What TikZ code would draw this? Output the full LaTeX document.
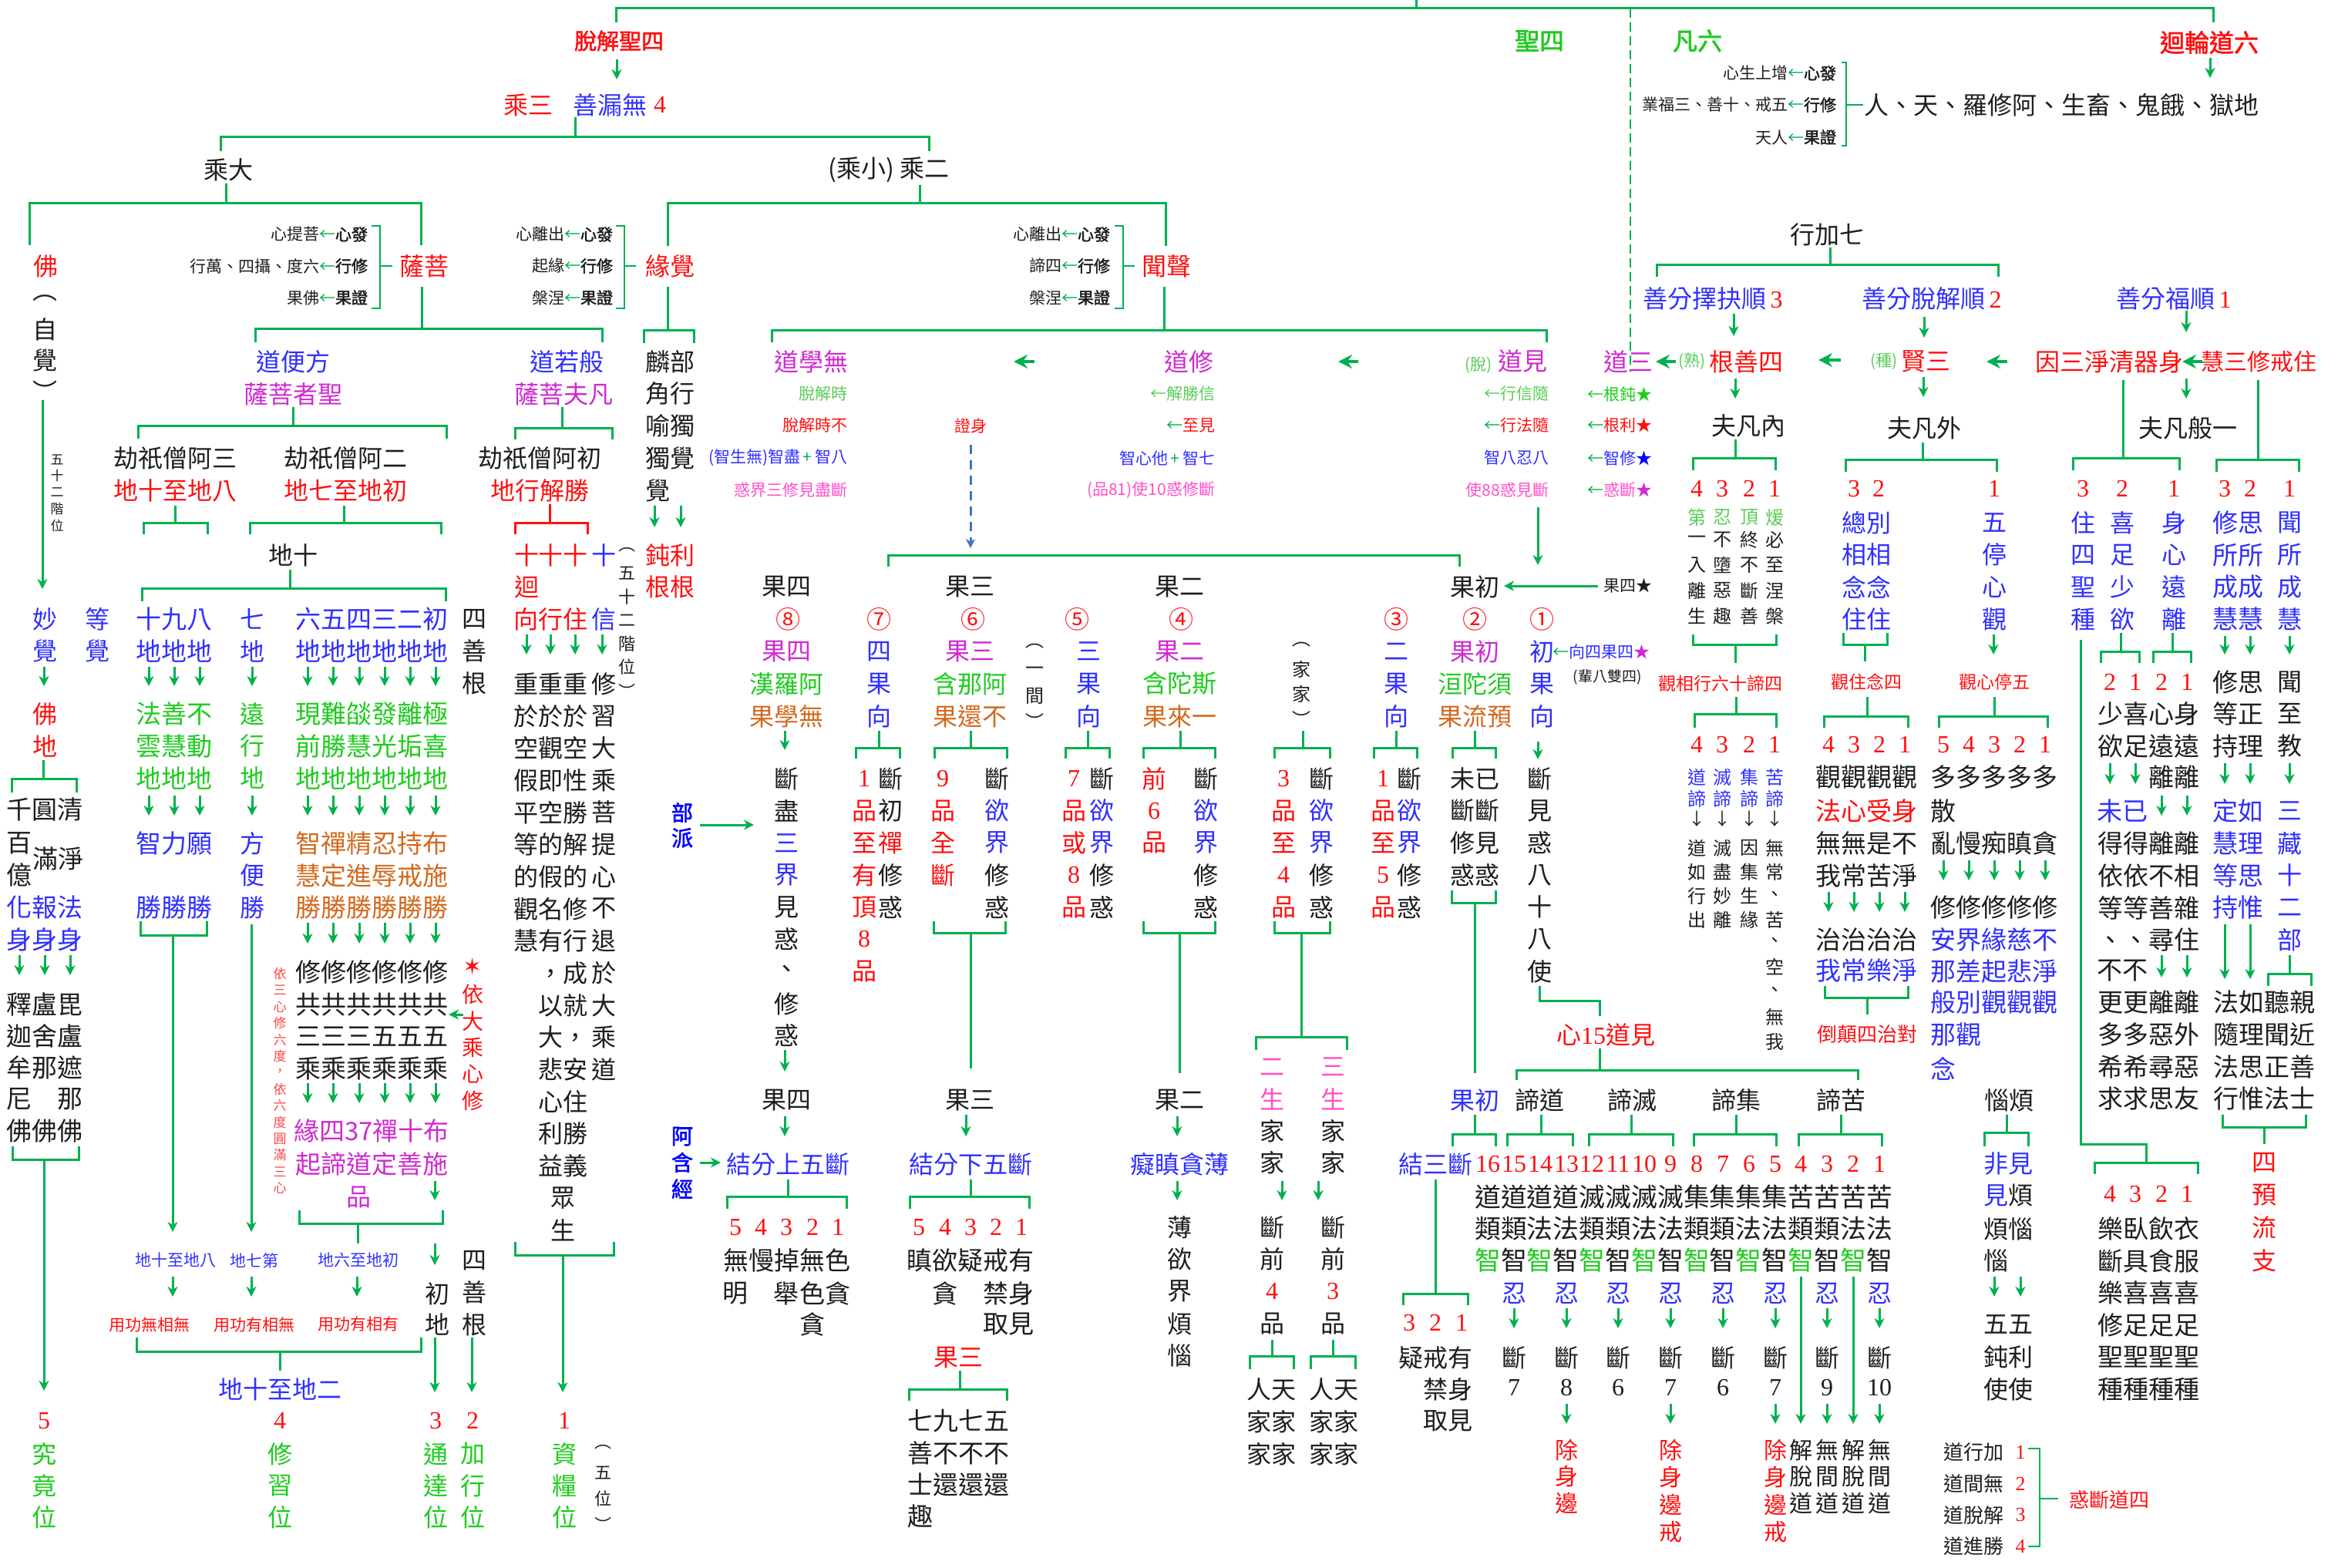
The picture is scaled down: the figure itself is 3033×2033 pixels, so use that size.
\documentclass[tikz,border=0pt]{standalone}
\usepackage{fontspec}
\setmainfont{Noto Sans CJK TC}
\newfontfamily\serif{Liberation Serif}
\newfontfamily\djv{DejaVu Sans}
\newfontfamily\cjkb[FakeBold=2]{Noto Sans CJK TC}
\usetikzlibrary{arrows.meta}
\definecolor{ink}{HTML}{1E1E1E}
\definecolor{cR}{HTML}{FF1010}
\definecolor{cLR}{HTML}{FF4848}
\definecolor{cB}{HTML}{3030FF}
\definecolor{cBB}{HTML}{0000FF}
\definecolor{cM}{HTML}{D02AD0}
\definecolor{cP}{HTML}{FF50C8}
\definecolor{cG}{HTML}{1ECC1E}
\definecolor{cLG}{HTML}{5ACC5A}
\definecolor{cO}{HTML}{D2691E}
\definecolor{lg}{HTML}{00B050}
\definecolor{dbl}{HTML}{4472C4}
\newcommand\fs[1]{\fontsize{#1}{#1}\selectfont}
\newcommand\nm[1]{{\serif #1}}
\newcounter{nd}
\newcommand\Tx[4][]{\stepcounter{nd}\node[tx,#1] (n\arabic{nd}) at (#2,#3) {#4};}
\newcommand\Cx[5][]{\foreach \s [count=\i from 0] in {#5} {\Tx[#1]{#2}{#3+\i*#4}{\s}}}
\newcommand\Rx[3][]{\foreach \a/\b in {#3} {\Tx[#1]{\a}{#2}{\b}}}
\newcommand\Nr[3][]{\foreach \a/\b in {#3} {\Tx[rd,#1]{\a}{#2}{\nm{\b}}}}
\newcommand\Dn[3]{\draw[arw] (#1,#2)--(#1,#3);}
\newcommand\Dns[3]{\foreach \x in {#1} {\draw[arw] (\x,#2)--(\x,#3);}}
\tikzset{
 tx/.style={inner sep=0pt,outer sep=0pt,text=ink,font=\fs{16}},
 cb/.style={font=\fs{16.5}},
 sm/.style={font=\fs{10.5}},
 rd/.style={text=cR}, lrd/.style={text=cLR}, bl/.style={text=cB}, bb/.style={text=cBB},
 mg/.style={text=cM}, pk/.style={text=cP}, gn/.style={text=cG}, lgn/.style={text=cLG}, orr/.style={text=cO},
 gl/.style={draw=lg,line width=1.5pt},
 glt/.style={draw=lg,line width=1pt},
 arw/.style={draw=lg,line width=1.5pt,-{Stealth[length=6.5pt,width=6.5pt,inset=2pt]}},
 arb/.style={draw=lg,line width=2pt,-{Stealth[length=9pt,width=9pt,inset=3pt]}},
}
\begin{document}
\begin{tikzpicture}[x=0.5pt,y=-0.5pt]
\fill[white] (0,0) rectangle (3033,2033);
\useasboundingbox (0,0) rectangle (3033,2033);
% ===== top =====
\draw[gl] (1837,0)--(1837,11) (799,29)--(799,11)--(2871,11)--(2871,29);
\draw[draw=lg,line width=1.2pt,dash pattern=on 6pt off 3pt] (2115,11)--(2115,482);
\Tx[rd,font=\cjkb\fs{14.5}]{803}{53}{脫解聖四}
\Tx[gn,font=\cjkb\fs{16}]{1997}{53}{聖四}
\Tx[gn,font=\cjkb\fs{16}]{2202}{53}{凡六}
\Tx[rd,font=\cjkb\fs{16}]{2866}{55}{迴輪道六}
\Dn{800}{77}{103}
\Dn{2867}{75}{101}
\Tx[rd]{685}{136}{乘三}
\Tx[bl]{791}{136}{善漏無}
\Tx[rd]{856}{136}{\nm{4}}
\draw[gl] (746,152)--(746,178) (286,196)--(286,178)--(1205,178)--(1205,196);
\Tx[sm,anchor=east]{2382}{95}{心生上增{\color{lg}←}{\cjkb 心發}}
\Tx[sm,anchor=east]{2382}{136}{業福三、善十、戒五{\color{lg}←}{\cjkb 行修}}
\Tx[sm,anchor=east]{2382}{178}{天人{\color{lg}←}{\cjkb 果證}}
\draw[glt] (2389,81)--(2395,81)--(2395,189)--(2389,189) (2395,136)--(2417,136);
\Tx{2674}{136}{人、天、羅修阿、生畜、鬼餓、獄地}
% ===== level 2 =====
\Tx{296}{220}{乘大}
\Tx{1153}{220}{(乘小)\ 乘二}
\draw[gl] (293,238)--(293,263) (38,318)--(38,263)--(546,263)--(546,318);
\draw[gl] (1193,240)--(1193,263) (866,319)--(866,263)--(1512,263)--(1512,319);
% Buddha column
\Tx[rd]{59}{345}{佛}
\Cx{58}{387}{40}{︵,自,覺,︶}
\draw[arw] (55,519)--(55,764);
\Cx[font=\fs{8.5}]{74}{596}{21.5}{五,十,二,階,位}
% bodhisattva
\Tx[sm,anchor=east]{477}{304}{心提菩{\color{lg}←}{\cjkb 心發}}
\Tx[sm,anchor=east]{477}{345}{行萬、四攝、度六{\color{lg}←}{\cjkb 行修}}
\Tx[sm,anchor=east]{477}{386}{果佛{\color{lg}←}{\cjkb 果證}}
\draw[glt] (482,293)--(493,293)--(493,400)--(482,400) (493,345)--(509,345);
\Tx[rd]{550}{345}{薩菩}
\draw[gl] (547,372)--(547,426) (331,444)--(331,426)--(781,426)--(781,444);
% pratyeka
\Tx[sm,anchor=east]{795}{304}{心離出{\color{lg}←}{\cjkb 心發}}
\Tx[sm,anchor=east]{795}{345}{起緣{\color{lg}←}{\cjkb 行修}}
\Tx[sm,anchor=east]{795}{386}{槃涅{\color{lg}←}{\cjkb 果證}}
\draw[glt] (799,293)--(810,293)--(810,400)--(799,400) (810,345)--(825,345);
\Tx[rd]{869}{345}{緣覺}
\draw[gl] (866,372)--(866,428) (835,445)--(835,428)--(900,428)--(900,445);
% sravaka
\Tx[sm,anchor=east]{1440}{304}{心離出{\color{lg}←}{\cjkb 心發}}
\Tx[sm,anchor=east]{1440}{345}{諦四{\color{lg}←}{\cjkb 行修}}
\Tx[sm,anchor=east]{1440}{386}{槃涅{\color{lg}←}{\cjkb 果證}}
\draw[glt] (1446,293)--(1457,293)--(1457,400)--(1446,400) (1457,345)--(1472,345);
\Tx[rd]{1513}{345}{聞聲}
\draw[gl] (1510,372)--(1510,428) (1001,444)--(1001,428)--(2006,428)--(2006,444);
% ===== bodhisattva branches =====
\Tx[bl]{380}{469}{道便方}
\Tx[mg]{380}{511}{薩菩者聖}
\draw[gl] (380,528)--(380,552) (179,569)--(179,552)--(579,552)--(579,569);
\Tx[bl]{735}{469}{道若般}
\Tx[mg]{731}{511}{薩菩夫凡}
\draw[gl] (729,528)--(729,555) (668,570)--(668,555)--(794,555)--(794,570);
\Tx{227}{594}{劫祇僧阿三}
\Tx[rd]{227}{636}{地十至地八}
\Tx{448}{594}{劫祇僧阿二}
\Tx[rd]{448}{636}{地七至地初}
\Tx{700}{594}{劫祇僧阿初}
\Tx[rd]{700}{636}{地行解勝}
\draw[gl] (227,656)--(227,678) (186,693)--(186,678)--(269,678)--(269,693);
\draw[gl] (446,656)--(446,678) (324,693)--(324,678)--(572,678)--(572,693);
\draw[gl,draw=cR] (713,654)--(713,678) (668,693)--(668,678)--(762,678)--(762,693);
% ten grounds
\Tx{380}{720}{地十}
\draw[gl] (376,739)--(376,763) (184,780)--(184,763)--(578,763)--(578,780);
\Cx[bl]{58}{803}{41.7}{妙,覺}
\Cx[bl]{126}{803}{41.7}{等,覺}
\Cx[bl,cb]{226}{803}{41.7}{十九八,地地地}
\Cx[bl]{327}{803}{41.7}{七,地}
\Cx[bl,cb]{482}{803}{41.7}{六五四三二初,地地地地地地}
\Cx{615}{803}{41.7}{四,善,根}
\Dns{57,193,226,259,327,399,432,466,499,532,565}{865}{890}
\Cx[rd]{58}{926}{41.7}{佛,地}
\Cx[gn,cb]{226}{926}{41.7}{法善不,雲慧動,地地地}
\Cx[gn]{327}{926}{41.7}{遠,行,地}
\Cx[gn,cb]{482}{926}{41.7}{現難燄發離極,前勝慧光垢喜,地地地地地地}
\draw[gl] (56,986)--(56,1010) (15,1028)--(15,1010)--(99,1010)--(99,1028);
\Dns{193,226,259,327,399,432,466,499,532,565}{1032}{1058}
\Tx[cb]{58}{1050}{千圓清}
\Tx[cb]{25}{1094}{百}
\Tx[cb]{25}{1135}{億}
\Tx[cb]{75}{1114}{滿淨}
\Tx[bl,cb]{226}{1094}{智力願}
\Cx[bl]{327}{1094}{41.7}{方,便,勝}
\Cx[orr,cb]{482}{1094}{41.7}{智禪精忍持布,慧定進辱戒施,勝勝勝勝勝勝}
\Cx[bl,cb]{58}{1177}{41.7}{化報法,身身身}
\Tx[bl,cb]{226}{1177}{勝勝勝}
\draw[gl] (182,1195)--(182,1213)--(268,1213)--(268,1195);
\draw[arw] (224,1213)--(224,1598);
\draw[arw] (326,1199)--(326,1598);
\Dns{399,432,466,499,532,565}{1197}{1224}
\Dns{25,58,91}{1239}{1265}
\Cx[cb]{482}{1261}{41.7}{修修修修修修,共共共共共共,三三三五五五,乘乘乘乘乘乘}
\Dns{399,432,466,499,532,565}{1405}{1431}
\Cx[mg,cb]{482}{1467}{42.5}{緣四37禪十布,起諦道定善施}
\Tx[mg]{465}{1553}{品}
\Dn{564}{1532}{1557}
\draw[gl] (388,1570)--(388,1587)--(574,1587)--(574,1570) (464,1587)--(464,1613);
\Dn{564}{1613}{1641}
\Cx[cb]{58}{1303}{41}{釋盧毘,迦舍盧,牟那遮,尼　那,佛佛佛}
\draw[gl] (16,1487)--(16,1504)--(102,1504)--(102,1487);
\draw[arw] (57,1504)--(57,1804);
\Tx[rd,font=\djv\fs{15}]{613}{1254}{✶}
\Cx[rd,font=\fs{14}]{613}{1290}{34.5}{依,大,乘,心,修}
\draw[arw] (601,1316)--(582,1316);
\Cx[lrd,font=\fs{8.5}]{363}{1263}{21.4}{依,三,心,修,六,度,，,依,六,度,圓,滿,三,心}
\Tx[bl,sm]{228}{1635}{地十至地八}
\Tx[bl,sm]{330}{1635}{地七第}
\Tx[bl,sm]{465}{1635}{地六至地初}
\Dns{224,326,463}{1656}{1682}
\Tx[rd,sm]{194}{1718}{用功無相無}
\Tx[rd,sm]{330}{1718}{用功有相無}
\Tx[rd,sm]{465}{1718}{用功有相有}
\Cx{615}{1635}{41.7}{四,善,根}
\Cx{567}{1678}{40}{初,地}
\draw[gl] (177,1735)--(177,1753)--(546,1753)--(546,1735) (363,1753)--(363,1778);
\Tx[bl]{363}{1802}{地十至地二}
\draw[arw] (564,1735)--(564,1806);
\draw[arw] (612,1735)--(612,1806);
% ten faiths etc
\Rx[rd]{720}{683/十,714/十,746/十}
\Tx[bl]{783}{720}{十}
\Tx[rd]{683}{761}{迴}
\Tx[rd]{714.5}{803}{向行住}
\Tx[bl]{783}{803}{信}
\Dns{683,714,746,781}{823}{849}
\Cx{714.5}{887}{41.7}{重重重,於於於,空觀空,假即性,平空勝,等的解,的假的,觀名修,慧有行,　，成,　以就,　大，,　悲安,　心住,　利勝,　益義,　眾,　生}
\Cx{783}{887}{41.7}{修,習,大,乘,菩,提,心,不,退,於,大,乘,道}
\draw[gl] (668,1611)--(668,1628)--(796,1628)--(796,1611);
\draw[arw] (730,1628)--(730,1806);
\Cx[font=\fs{11}]{813}{713}{30.5}{︵,五,十,二,階,位,︶}
% five stages
\Nr{1843}{57/5,363/4,565/3,613/2,732/1}
\Cx[gn]{57}{1886}{41}{究,竟,位}
\Cx[gn]{363}{1886}{41}{修,習,位}
\Cx[gn]{565}{1886}{41}{通,達,位}
\Cx[gn]{613}{1886}{41}{加,行,位}
\Cx[gn]{732}{1886}{41}{資,糧,位}
\Cx[font=\fs{11}]{782}{1877}{33.5}{︵,五,位,︶}
% pratyeka column
\Cx{869}{469}{41.7}{麟部,角行,喻獨,獨覺}
\Tx{853}{636}{覺}
\Dns{849,883}{656}{684}
\Cx[rd]{869}{720}{41.3}{鈍利,根根}
% ===== sravaka path =====
\Tx[mg]{1052}{469}{道學無}
\Tx[lgn,sm,anchor=east]{1099}{511}{脫解時}
\Tx[rd,sm,anchor=east]{1099}{552}{脫解時不}
\Tx[bl,sm,anchor=east]{1099}{594}{(智生無)智盡\,{\color{lg}+}\,智八}
\Tx[pk,sm,anchor=east]{1099}{636}{惑界三修見盡斷}
\draw[arb] (1342,469)--(1315,469);
\Tx[mg]{1542}{469}{道修}
\Tx[lgn,sm,anchor=east]{1576}{511}{←解勝信}
\Tx[rd,sm,anchor=east]{1576}{552}{{\color{lg}←}至見}
\Tx[bl,sm,anchor=east]{1576}{594}{智心他\,{\color{lg}+}\,智七}
\Tx[pk,sm,anchor=east]{1576}{636}{(品81)使10惑修斷}
\draw[arb] (1762,469)--(1736,469);
\Tx[anchor=east]{2007}{469}{{\color{cLG}\fs{10.5}(脫)}\ {\color{cM}道見}}
\Tx[lgn,sm,anchor=east]{2009}{511}{←行信隨}
\Tx[rd,sm,anchor=east]{2009}{552}{{\color{lg}←}行法隨}
\Tx[bl,sm,anchor=east]{2009}{594}{智八忍八}
\Tx[pk,sm,anchor=east]{2009}{636}{使88惑見斷}
\draw[arw] (1995,658)--(1995,733);
\Tx[mg]{2112}{469}{道三}
\draw[arb] (2174,469)--(2148,469);
\Tx[lgn,sm]{2195}{469}{(熟)}
\Tx[rd]{2265}{469}{根善四}
\Tx[gn,sm,anchor=east]{2143}{511}{←根鈍★}
\Tx[rd,sm,anchor=east]{2143}{552}{{\color{lg}←}根利★}
\Tx[bl,sm,anchor=east]{2143}{594}{{\color{lg}←}智修{\color{cBB}★}}
\Tx[pk,sm,anchor=east]{2143}{636}{{\color{lg}←}惑斷{\color{cM}★}}
\Tx[rd,sm]{1259}{552}{證身}
\draw[draw=dbl,line width=1.5pt,dash pattern=on 6pt off 4pt,-{Stealth[length=6pt,width=6pt]}] (1259,577)--(1259,711);
% ===== preparatory path =====
\Tx{2370}{304}{行加七}
\draw[gl] (2374,321)--(2374,343) (2149,359)--(2149,343)--(2592,343)--(2592,359);
\Tx[bl]{2222}{387}{善分擇抉順\,{\color{cR}\nm{3}}}
\Tx[bl]{2506}{387}{善分脫解順\,{\color{cR}\nm{2}}}
\Tx[bl]{2820}{387}{善分福順\,{\color{cR}\nm{1}}}
\Dn{2249}{407}{436}
\Dn{2496}{411}{438}
\Dn{2836}{403}{431}
\draw[arb] (2388,467)--(2359,467);
\Tx[lgn,sm]{2444}{469}{(種)}
\Tx[rd]{2498}{469}{賢三}
\draw[arb] (2604,469)--(2577,469);
\Tx[rd]{2736}{469}{因三淨清器身}
\draw[arb] (2857,469)--(2831,469);
\Tx[rd,font=\fs{15}]{2930}{469}{慧三修戒住}
\Dn{2251}{491}{517}
\Dn{2495}{489}{515}
\Dn{2836}{491}{517}
\Tx{2268}{552}{夫凡內}
\Tx{2496}{555}{夫凡外}
\Tx{2838}{555}{夫凡般一}
\draw[gl] (2251,570)--(2251,594) (2196,610)--(2196,594)--(2303,594)--(2303,610);
\draw[gl] (2494,574)--(2494,596) (2394,612)--(2394,596)--(2590,596)--(2590,612);
\draw[gl] (2754,493)--(2754,594) (2689,610)--(2689,594)--(2827,594)--(2827,610);
\draw[gl] (2929,493)--(2929,596) (2875,612)--(2875,596)--(2982,596)--(2982,612);
\Nr{634}{2201/4,2234/3,2269/2,2302/1,2405/3,2437/2,2587/1,2702/3,2753/2,2820/1,2886/3,2919/2,2970/1}
% four roots of goodness
\Rx[lgn,font=\fs{12}]{671}{2201/第,2234/忍,2269/頂,2302/煖}
\Rx[font=\fs{12}]{700}{2201/一,2234/不,2269/終,2302/必}
\Rx[font=\fs{12}]{733}{2201/入,2234/墮,2269/不,2302/至}
\Rx[font=\fs{12}]{766}{2201/離,2234/惡,2269/斷,2302/涅}
\Rx[font=\fs{12}]{799}{2201/生,2234/趣,2269/善,2302/槃}
\draw[gl] (2196,823)--(2196,836)--(2304,836)--(2304,823) (2251,836)--(2251,860);
\Tx[rd,font=\fs{11.5}]{2232}{887}{觀相行六十諦四}
\draw[gl] (2252,904)--(2252,926) (2198,944)--(2198,926)--(2304,926)--(2304,944);
\Nr{966}{2201/4,2234/3,2269/2,2302/1}
\Rx[bl,font=\fs{12}]{1008}{2201/道,2234/滅,2269/集,2302/苦}
\Rx[bl,font=\fs{12}]{1036}{2201/諦,2234/諦,2269/諦,2302/諦}
\Rx[font=\fs{11}]{1062}{2201/↓,2234/↓,2269/↓,2302/↓}
\Rx[font=\fs{12}]{1100}{2201/道,2234/滅,2269/因,2302/無}
\Rx[font=\fs{12}]{1131}{2201/如,2234/盡,2269/集,2302/常}
\Rx[font=\fs{12}]{1162}{2201/行,2234/妙,2269/生,2302/、}
\Rx[font=\fs{12}]{1193}{2201/出,2234/離,2269/緣,2302/苦}
\Cx[font=\fs{12}]{2302}{1222}{32.3}{、,空,、,無,我}
% outer ordinary
\Cx[bl]{2421}{678}{41.7}{總別,相相,念念,住住}
\Cx[bl]{2587}{678}{41.7}{五,停,心,觀}
\draw[gl] (2391,821)--(2391,836)--(2448,836)--(2448,821) (2419,836)--(2419,858);
\Dn{2586}{823}{849}
\Tx[rd,font=\fs{11.5}]{2421}{885}{觀住念四}
\Tx[rd,font=\fs{11.5}]{2587}{885}{觀心停五}
\draw[gl] (2422,904)--(2422,929) (2366,944)--(2366,929)--(2475,929)--(2475,944);
\draw[gl] (2587,904)--(2587,929) (2515,944)--(2515,929)--(2656,929)--(2656,944);
\Nr{966}{2372/4,2405/3,2438/2,2471/1,2521/5,2554/4,2587/3,2620/2,2653/1}
\Cx[cb]{2421}{1008}{43.5}{觀觀觀觀}
\Tx[rd,cb]{2421}{1052}{法心受身}
\Cx[cb]{2421}{1094}{41.7}{無無是不,我常苦淨}
\Dns{2372,2405,2438,2471}{1157}{1183}
\Tx[cb]{2421}{1219}{治治治治}
\Tx[bl,cb]{2421}{1259}{我常樂淨}
\draw[gl] (2367,1279)--(2367,1294)--(2475,1294)--(2475,1279) (2422,1294)--(2422,1316);
\Tx[rd,font=\fs{13}]{2422}{1342}{倒顛四治對}
\Tx[cb]{2587}{1008}{多多多多多}
\Tx[cb]{2521}{1052}{散}
\Tx[cb]{2587}{1094}{亂慢痴瞋貪}
\Dns{2521,2554,2587,2620,2653}{1116}{1142}
\Tx[cb]{2587}{1177}{修修修修修}
\Cx[bl,cb]{2587}{1219}{40.7}{安界緣慈不,那差起悲淨,般別觀觀觀}
\Tx[bl,cb]{2537}{1342}{那觀}
\Tx[bl,cb]{2521}{1386}{念}
% general ordinary
\Cx[bl]{2702}{678}{41.7}{住,四,聖,種}
\Cx[bl]{2753}{678}{41.7}{喜,足,少,欲}
\Cx[bl]{2820}{678}{41.7}{身,心,遠,離}
\Cx[bl,cb]{2903}{678}{41.7}{修思,所所,成成,慧慧}
\Cx[bl]{2970}{678}{41.7}{聞,所,成,慧}
\draw[gl] (2699,830)--(2699,1484)--(2784,1484)--(2784,1508) (2717,1523)--(2717,1508)--(2851,1508)--(2851,1523);
\draw[gl] (2751,821)--(2751,845) (2725,860)--(2725,845)--(2775,845)--(2775,860);
\draw[gl] (2818,821)--(2818,845) (2793,860)--(2793,845)--(2842,845)--(2842,860);
\Dns{2886,2919,2970}{825}{849}
\Nr{885}{2737/2,2770/1,2804/2,2837/1}
\Tx[cb]{2903}{885}{修思}
\Tx{2970}{885}{聞}
\Cx[cb]{2787}{926}{41.7}{少喜心身,欲足遠遠}
\Cx[cb]{2903}{926}{41.7}{等正,持理}
\Cx{2970}{926}{41.7}{至,教}
\Dns{2737,2770,2886,2919,2970}{990}{1017}
\Tx[cb]{2820}{1008}{離離}
\Tx[bl,cb]{2753}{1052}{未已}
\Dns{2804,2837}{1032}{1058}
\Tx[bl,cb]{2903}{1052}{定如}
\Tx[bl]{2970}{1052}{三}
\Cx[cb]{2787}{1094}{41.7}{得得離離,依依不相,等等善雜,、、尋住}
\Cx[bl,cb]{2903}{1094}{41.7}{慧理,等思,持惟}
\Cx[bl]{2970}{1094}{41.7}{藏,十,二,部}
\Tx[cb]{2753}{1259}{不不}
\Dns{2804,2837}{1239}{1268}
\Dns{2886,2919}{1199}{1270}
\draw[gl] (2970,1239)--(2970,1263) (2942,1279)--(2942,1263)--(2998,1263)--(2998,1279);
\Cx[cb]{2787}{1300}{41.8}{更更離離,多多惡外,希希尋惡,求求思友}
\Cx[cb]{2937}{1300}{41.8}{法如聽親,隨理聞近,法思正善,行惟法士}
\draw[gl] (2883,1446)--(2883,1462)--(2991,1462)--(2991,1446) (2937,1462)--(2937,1484);
\Cx[rd]{2937}{1508}{42.3}{四,預,流,支}
\Nr{1549}{2737/4,2770/3,2804/2,2837/1}
\Cx[cb]{2787}{1594}{41.6}{樂臥飲衣,斷具食服,樂喜喜喜,修足足足,聖聖聖聖,種種種種}
% ===== four fruits =====
\draw[gl] (1152,735)--(1152,720)--(1893,720)--(1893,735);
\Tx{1020}{761}{果四}
\Tx{1258}{761}{果三}
\Tx{1530}{761}{果二}
\Tx{1913}{761}{果初}
\Tx[sm]{2112}{760}{果四★}
\draw[arw] (2073,760)--(1951,760);
\Rx[rd]{803}{1022/⑧,1140/⑦,1262/⑥,1397/⑤,1532/④,1811/③,1913/②,2000/①}
\Rx[mg]{845}{1020/果四,1258/果三,1530/果二,1913/果初}
\Rx[bl]{845}{1140/四,1412/三,1811/二,2000/初}
\Tx[bl,sm,anchor=west]{2014}{845}{{\color{lg}←}向四果四{\color{cM}★}}
\Rx[gn]{887}{1020/漢羅阿,1258/含那阿,1530/含陀斯,1913/洹陀須}
\Rx[bl]{887}{1140/果,1412/果,1811/果,2000/果}
\Tx[font=\fs{9.5}]{2085}{878}{(輩八雙四)}
\Rx[orr]{929}{1020/果學無,1258/果還不,1530/果來一,1913/果流預}
\Rx[bl]{929}{1140/向,1412/向,1811/向,2000/向}
\Cx[font=\fs{12}]{1342}{838}{32.5}{︵,一,間,︶}
\Cx[font=\fs{12}]{1688}{836}{32.3}{︵,家,家,︶}
\Dn{1018}{948}{973}
\draw[gl] (1140,948)--(1140,970) (1110,984)--(1110,970)--(1167,970)--(1167,984);
\draw[gl] (1259,948)--(1259,970) (1212,984)--(1212,970)--(1306,970)--(1306,984);
\draw[gl] (1411,948)--(1411,970) (1382,984)--(1382,970)--(1439,970)--(1439,984);
\draw[gl] (1531,948)--(1531,970) (1483,984)--(1483,970)--(1576,970)--(1576,984);
\draw[gl] (1690,948)--(1690,970) (1653,984)--(1653,970)--(1725,970)--(1725,984);
\draw[gl] (1811,948)--(1811,970) (1782,984)--(1782,970)--(1838,970)--(1838,984);
\draw[gl] (1913,948)--(1913,970) (1884,984)--(1884,970)--(1940,970)--(1940,984);
\Dn{1995}{962}{985}
\Cx{1020}{1010}{41.7}{斷,盡,{\color{cB}三},{\color{cB}界},見,惑,、,修,惑}
\Cx[rd]{1121}{1010}{41.7}{\nm{1},品,至,有,頂,\nm{8},品}
\Cx{1155}{1010}{41.7}{斷,初,{\color{cR}禪},修,惑}
\Cx[rd]{1223}{1010}{41.7}{\nm{9},品,全,斷}
\Cx{1293}{1010}{41.7}{斷,{\color{cB}欲},{\color{cB}界},修,惑}
\Cx[rd]{1393}{1010}{41.7}{\nm{7},品,或,\nm{8},品}
\Cx{1429}{1010}{41.7}{斷,{\color{cB}欲},{\color{cB}界},修,惑}
\Cx[rd]{1497}{1010}{41.7}{前,\nm{6},品}
\Cx{1564}{1010}{41.7}{斷,{\color{cB}欲},{\color{cB}界},修,惑}
\Cx[rd]{1665}{1010}{41.7}{\nm{3},品,至,\nm{4},品}
\Cx{1714}{1010}{41.7}{斷,{\color{cB}欲},{\color{cB}界},修,惑}
\Cx[rd]{1794}{1010}{41.7}{\nm{1},品,至,\nm{5},品}
\Cx{1828}{1010}{41.7}{斷,{\color{cB}欲},{\color{cB}界},修,惑}
\Cx{1913}{1010}{41.7}{未已,斷斷,修見,惑惑}
\Cx{1997}{1010}{41.7}{斷,見,惑,八,十,八,使}
\draw[gl] (1211,1195)--(1211,1210)--(1304,1210)--(1304,1195) (1259,1210)--(1259,1386);
\draw[gl] (1483,1195)--(1483,1210)--(1576,1210)--(1576,1195) (1530,1210)--(1530,1392);
\draw[gl] (1653,1195)--(1653,1210)--(1725,1210)--(1725,1195) (1688,1210)--(1688,1345) (1629,1362)--(1629,1345)--(1747,1345)--(1747,1362);
\draw[gl] (1883,1155)--(1883,1171)--(1940,1171)--(1940,1155) (1913,1171)--(1913,1392);
\draw[gl] (1997,1279)--(1997,1298)--(2075,1298)--(2075,1318);
\Dn{1018}{1362}{1390}
\Tx[rd]{2083}{1342}{心\nm{15}道見}
\draw[gl] (2075,1360)--(2075,1388) (1967,1401)--(1967,1388)--(2410,1388)--(2410,1401);
% Agama / schools
\Cx[bb,font=\cjkb\fs{14}]{885}{1054}{33}{部,派}
\draw[arw] (908,1070)--(978,1070);
\Cx[bb,font=\cjkb\fs{14}]{885}{1474}{34}{阿,含,經}
\draw[arw] (908,1508)--(935,1508);
\Tx{1020}{1427}{果四}
\Dn{1018}{1448}{1474}
\Tx[bl]{1022}{1510}{結分上五斷}
\draw[gl] (1022,1530)--(1022,1552) (943,1568)--(943,1552)--(1098,1552)--(1098,1568);
\Nr{1592}{954/5,987/4,1020/3,1054/2,1087/1}
\Tx[cb]{1020.5}{1635}{無慢掉無色}
\Rx[cb]{1678}{954/明,1020/舉,1054/色,1087/貪}
\Tx[cb]{1054}{1718}{貪}
\Tx{1258}{1427}{果三}
\Dn{1253}{1446}{1474}
\Tx[bl]{1259}{1510}{結分下五斷}
\draw[gl] (1259,1530)--(1259,1552) (1180,1568)--(1180,1552)--(1335,1552)--(1335,1568);
\Nr{1592}{1192/5,1226/4,1259/3,1292/2,1325/1}
\Tx[cb]{1259}{1635}{瞋欲疑戒有}
\Rx[cb]{1678}{1226/貪,1292/禁,1325/身}
\Rx[cb]{1718}{1292/取,1325/見}
\Tx[rd]{1243}{1761}{果三}
\draw[gl] (1245,1778)--(1245,1802) (1179,1817)--(1179,1802)--(1306,1802)--(1306,1817);
\Cx[cb]{1243}{1843}{41.5}{七九七五,善不不不,士還還還}
\Tx[cb]{1193.5}{1967}{趣}
\Tx{1530}{1427}{果二}
\Dn{1527}{1448}{1474}
\Tx[bl]{1530}{1510}{癡瞋貪薄}
\Dn{1527}{1532}{1557}
\Cx{1530}{1592}{41.7}{薄,欲,界,煩,惱}
\Cx[pk]{1650}{1384}{42}{二,生}
\Cx[pk]{1729}{1384}{42}{三,生}
\Cx{1650}{1467}{41}{家,家}
\Cx{1729}{1467}{41}{家,家}
\Dns{1663,1710}{1532}{1557}
\Cx{1650}{1592}{41.7}{斷,前,\nm{\color{cR}4},品}
\Cx{1729}{1592}{41.7}{斷,前,\nm{\color{cR}3},品}
\draw[gl] (1650,1738)--(1650,1759) (1621,1776)--(1621,1759)--(1678,1759)--(1678,1776);
\draw[gl] (1729,1738)--(1729,1759) (1700,1776)--(1700,1759)--(1758,1759)--(1758,1776);
\Cx{1649}{1802}{42}{人天,家家,家家}
\Cx{1730}{1802}{42}{人天,家家,家家}
\Tx[bl]{1913}{1427}{果初}
\draw[gl] (1913,1446)--(1913,1471) (1884,1487)--(1884,1471)--(1940,1471)--(1940,1487);
\Tx[bl]{1862}{1510}{結三斷}
\draw[gl] (1862,1530)--(1862,1678) (1820,1693)--(1820,1678)--(1904,1678)--(1904,1693);
\Nr{1716}{1828/3,1862/2,1896/1}
\Tx{1862}{1761}{疑戒有}
\Tx{1878}{1802}{禁身}
\Tx{1878}{1843}{取見}
% sixteen moments
\Rx{1427}{1997/諦道,2117/諦滅,2252/諦集,2388/諦苦}
\draw[gl] (1999,1446)--(1999,1471) (1955,1487)--(1955,1471)--(2040,1471)--(2040,1487);
\draw[gl] (2116,1446)--(2116,1471) (2061,1487)--(2061,1471)--(2170,1471)--(2170,1487);
\draw[gl] (2252,1446)--(2252,1471) (2197,1487)--(2197,1471)--(2304,1471)--(2304,1487);
\draw[gl] (2388,1446)--(2388,1471) (2333,1487)--(2333,1471)--(2441,1471)--(2441,1487);
\Nr{1510}{1930/16,1964/15,1998/14,2032/13,2065/12,2099/11,2133/10,2167/9,2201/8,2235/7,2269/6,2303/5,2336/4,2370/3,2404/2,2438/1}
\Tx[font=\fs{16.93}]{2184}{1553}{道道道道滅滅滅滅集集集集苦苦苦苦}
\Tx[font=\fs{16.93}]{2184}{1594}{類類法法類類法法類類法法類類法法}
\Tx[font=\fs{16.93}]{2184}{1635}{{\color{cG}智}智{\color{cG}智}智{\color{cG}智}智{\color{cG}智}智{\color{cG}智}智{\color{cG}智}智{\color{cG}智}智{\color{cG}智}智}
\Rx[bl]{1678}{1964/忍,2032/忍,2099/忍,2167/忍,2235/忍,2303/忍,2370/忍,2438/忍}
\Dns{1964,2032,2099,2167,2235,2303,2370,2438}{1697}{1723}
\Rx{1761}{1964/斷,2032/斷,2099/斷,2167/斷,2235/斷,2303/斷,2370/斷,2438/斷}
\Rx{1800}{1964/\nm{7},2032/\nm{8},2099/\nm{6},2167/\nm{7},2235/\nm{6},2303/\nm{7},2370/\nm{9},2438/\nm{10}}
\Dns{2032,2167,2303,2370,2438}{1821}{1847}
\Dns{2336,2404}{1656}{1847}
\Cx[rd,font=\fs{15}]{2032}{1881}{34.5}{除,身,邊}
\Cx[rd,font=\fs{15}]{2167}{1881}{35.3}{除,身,邊,戒}
\Cx[rd,font=\fs{15}]{2303}{1881}{35.3}{除,身,邊,戒}
\Cx[font=\fs{15}]{2336}{1881}{34.5}{解,脫,道}
\Cx[font=\fs{15}]{2370}{1881}{34.5}{無,間,道}
\Cx[font=\fs{15}]{2404}{1881}{34.5}{解,脫,道}
\Cx[font=\fs{15}]{2438}{1881}{34.5}{無,間,道}
% afflictions
\Tx{2606}{1427}{惱煩}
\draw[gl] (2603,1446)--(2603,1469) (2574,1487)--(2574,1469)--(2631,1469)--(2631,1487);
\Tx[bl]{2605}{1510}{非見}
\Tx{2605}{1551}{{\color{cB}見}煩}
\Tx{2605}{1594}{煩惱}
\Tx{2589}{1635}{惱}
\Dns{2587,2621}{1656}{1682}
\Cx{2605}{1718}{42}{五五,鈍利,使使}
% four paths
\Cx[font=\fs{13}]{2560}{1884}{40.7}{道行加,道間無,道脫解,道進勝}
\Cx[rd,font=\fs{13}]{2621}{1884}{40.7}{\nm{1},\nm{2},\nm{3},\nm{4}}
\draw[glt] (2631,1879)--(2646,1879)--(2646,2006)--(2631,2006) (2646,1944)--(2670,1944);
\Tx[rd,font=\fs{13}]{2736}{1946}{惑斷道四}
\end{tikzpicture}
\end{document}
